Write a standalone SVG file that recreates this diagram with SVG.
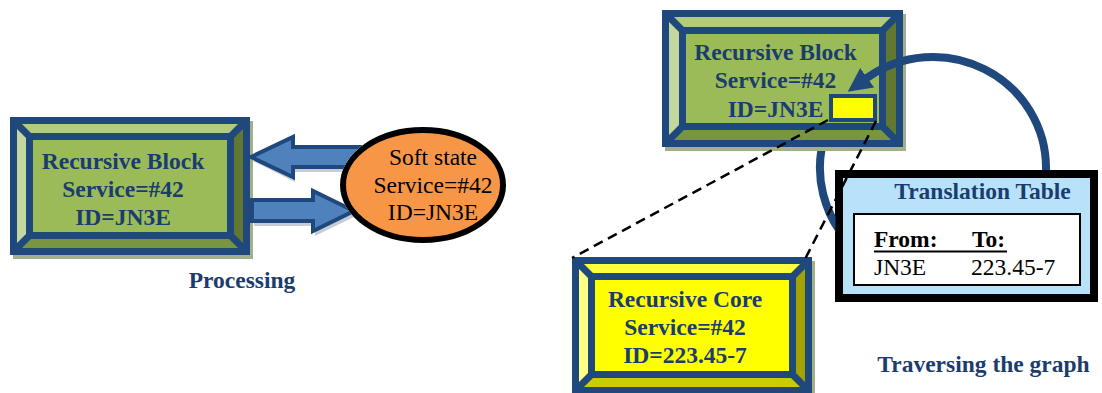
<svg xmlns="http://www.w3.org/2000/svg" width="1102" height="393" viewBox="0 0 1102 393">
<style>
.t{font-family:"Liberation Serif","Times New Roman",serif;font-size:23.5px;text-anchor:middle}
.b{font-weight:bold;fill:#1A3C6E}
.k{fill:#000}
.edge{fill:none;stroke:#1F497D;stroke-width:7;stroke-linejoin:miter}
.gt{fill:#B3CB7D}.gl{fill:#C4D79F}.gr{fill:#627832}.gb{fill:#7A9540}.gf{fill:#9BBB59}
.yt{fill:#FFFF3C}.yl{fill:#FFFF85}.yr{fill:#A3A300}.yb{fill:#CCCC00}.yf{fill:#FFFF00}
.sh{fill:#A3AE8A}
.barrow{fill:#4F81BD;stroke:#1F497D;stroke-width:4;stroke-linejoin:miter}
.ashadow{fill:#7F8FA6;opacity:0.45}
.dash{fill:none;stroke:#000;stroke-width:2.5;stroke-dasharray:10 6}
.arc{fill:none;stroke:#1F497D;stroke-width:8}
</style>
<defs>
<marker id="ah" viewBox="0 0 24 24" refX="1" refY="12" markerWidth="24" markerHeight="24" markerUnits="userSpaceOnUse" orient="auto">
<path d="M0,0 L24,12 L0,24 Z" fill="#1F497D"/>
</marker>
<clipPath id="notEllipse">
<path clip-rule="evenodd" d="M0 0H1102V393H0Z M340 185 A83 58 0 1 0 506 185 A83 58 0 1 0 340 185 Z"/>
</clipPath>
<clipPath id="lowArc">
<rect x="780" y="151" width="55.5" height="110"/>
</clipPath>
</defs>

<g id="node-recursive-block-left">
<rect class="sh" x="13" y="121" width="240" height="138"/>
<polygon class="gt" points="13.5,120.5 246.5,120.5 230.5,136.5 29.5,136.5"/>
<polygon class="gl" points="13.5,120.5 29.5,136.5 29.5,235.5 13.5,251.5"/>
<polygon class="gr" points="246.5,120.5 246.5,251.5 230.5,235.5 230.5,136.5"/>
<polygon class="gb" points="13.5,251.5 246.5,251.5 230.5,235.5 29.5,235.5"/>
<rect class="gf" x="29.5" y="136.5" width="201" height="99"/>
<path class="edge" d="M13.5 120.5H246.5V251.5H13.5Z M29.5 136.5H230.5V235.5H29.5Z M13.5 120.5L29.5 136.5 M246.5 120.5L230.5 136.5 M246.5 251.5L230.5 235.5 M13.5 251.5L29.5 235.5"/>
<text class="t b" x="123" y="169">Recursive Block</text>
<text class="t b" x="123" y="197">Service=#42</text>
<text class="t b" x="123" y="225">ID=JN3E</text>
</g>

<g id="node-soft-state">
<ellipse cx="423" cy="185" rx="80" ry="55" fill="#F79646" stroke="#000" stroke-width="6"/>
<text class="t k" x="433" y="165">Soft state</text>
<text class="t k" x="433" y="193">Service=#42</text>
<text class="t k" x="433" y="220">ID=JN3E</text>
</g>

<g id="label-processing">
<text class="t b" x="242" y="288">Processing</text>
</g>

<g id="node-recursive-block-top">
<rect class="sh" x="665" y="14" width="241" height="137"/>
<polygon class="gt" points="665.5,13.5 899.5,13.5 882.5,30.5 682.5,30.5"/>
<polygon class="gl" points="665.5,13.5 682.5,30.5 682.5,126.5 665.5,143.5"/>
<polygon class="gr" points="899.5,13.5 899.5,143.5 882.5,126.5 882.5,30.5"/>
<polygon class="gb" points="665.5,143.5 899.5,143.5 882.5,126.5 682.5,126.5"/>
<rect class="gf" x="682.5" y="30.5" width="200" height="96"/>
<path class="edge" d="M665.5 13.5H899.5V143.5H665.5Z M682.5 30.5H882.5V126.5H682.5Z M665.5 13.5L682.5 30.5 M899.5 13.5L882.5 30.5 M899.5 143.5L882.5 126.5 M665.5 143.5L682.5 126.5"/>
<text class="t b" x="775.5" y="60">Recursive Block</text>
<text class="t b" x="775.5" y="88">Service=#42</text>
<text class="t b" x="775.5" y="117">ID=JN3E</text>
<rect x="831" y="96" width="44" height="24" fill="#FFFF00" stroke="#1F497D" stroke-width="4"/>
</g>

<g id="node-recursive-core">
<rect class="sh" x="575" y="261" width="240" height="137"/>
<polygon class="yt" points="575.5,260.5 808.5,260.5 792.5,276.5 591.5,276.5"/>
<polygon class="yl" points="575.5,260.5 591.5,276.5 591.5,374.5 575.5,390.5"/>
<polygon class="yr" points="808.5,260.5 808.5,390.5 792.5,374.5 792.5,276.5"/>
<polygon class="yb" points="575.5,390.5 808.5,390.5 792.5,374.5 591.5,374.5"/>
<rect class="yf" x="591.5" y="276.5" width="201" height="98"/>
<path class="edge" d="M575.5 260.5H808.5V390.5H575.5Z M591.5 276.5H792.5V374.5H591.5Z M575.5 260.5L591.5 276.5 M808.5 260.5L792.5 276.5 M808.5 390.5L792.5 374.5 M575.5 390.5L591.5 374.5"/>
<text class="t b" x="685" y="307">Recursive Core</text>
<text class="t b" x="685" y="335">Service=#42</text>
<text class="t b" x="685" y="363">ID=223.45-7</text>
</g>

<g id="node-translation-table">
<rect x="839" y="174" width="255" height="124" fill="#B8E2FA" stroke="#000" stroke-width="8"/>
<text class="t b" x="982.5" y="199">Translation Table</text>
<rect x="854" y="214" width="226" height="71" fill="#FFF" stroke="#000" stroke-width="2"/>
<text class="t k" x="874" y="247" style="text-anchor:start;font-weight:bold">From:</text>
<text class="t k" x="972" y="247" style="text-anchor:start;font-weight:bold">To:</text>
<line x1="874" y1="251.5" x2="1007" y2="251.5" stroke="#000" stroke-width="2"/>
<text class="t k" x="874" y="275" style="text-anchor:start">JN3E</text>
<text class="t k" x="971" y="275" style="text-anchor:start">223.45-7</text>
</g>

<g id="label-traversing">
<text class="t b" x="983.5" y="372">Traversing the graph</text>
</g>

<g id="connectors">
<g clip-path="url(#notEllipse)">
<polygon class="ashadow" points="253,161 295,142 295,152 362,152 362,172 295,172 295,182"/>
<polygon class="ashadow" points="254,205 315,205 315,196 356,216 315,236 315,226 254,226"/>
<polygon class="barrow" points="251,157 293,137 293,147 360,147 360,167 293,167 293,177"/>
<polygon class="barrow" points="252,200 313,200 313,191 354,211 313,231 313,221 252,221"/>
</g>
<path class="arc" clip-path="url(#lowArc)" d="M826.8 130 A113 111 0 0 0 856.8 250"/>
<path class="arc" d="M1046 170 A113 111 0 0 0 866.4 78.3" marker-end="url(#ah)"/>
<line class="dash" x1="828" y1="120" x2="572" y2="258"/>
<line class="dash" x1="876" y1="121" x2="803" y2="263"/>
</g>
</svg>
